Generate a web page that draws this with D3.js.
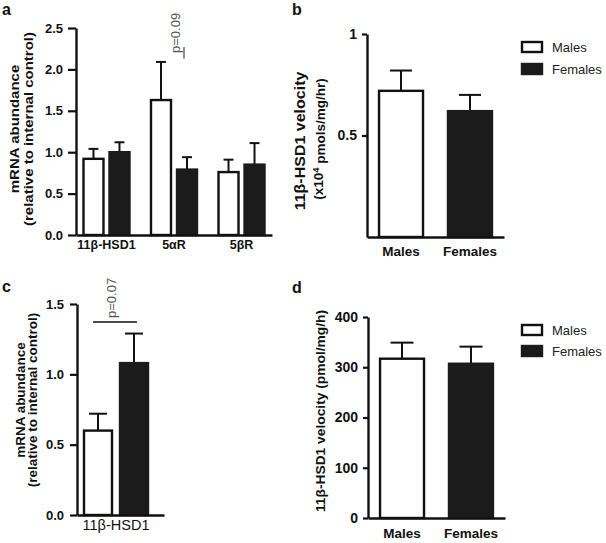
<!DOCTYPE html>
<html><head><meta charset="utf-8">
<script src="https://cdn.jsdelivr.net/npm/d3@7"></script>
<style>body{margin:0;background:#fff}</style>
</head><body>
<svg id="chart" width="606" height="543"></svg>
<script>
// ---------- data ----------
const sexes = ["Males", "Females"];

const aCategories = ["11β-HSD1", "5αR", "5βR"];
const aMales = [0.92, 1.63, 0.76];
const aMalesSem = [0.12, 0.46, 0.15];
const aFemales = [1.00, 0.79, 0.85];
const aFemalesSem = [0.12, 0.15, 0.26];
const aTicks = [0, 0.5, 1.0, 1.5, 2.0, 2.5];

const bCategories = ["Males", "Females"];
const bValues = [0.72, 0.62];
const bSem = [0.10, 0.08];
const bTicks = [0.5, 1];

const cCategories = ["11β-HSD1"];
const cMales = [0.60];
const cMalesSem = [0.12];
const cFemales = [1.08];
const cFemalesSem = [0.21];
const cTicks = [0, 0.5, 1.0, 1.5];

const dCategories = ["Males", "Females"];
const dValues = [317, 307];
const dSem = [32, 34];
const dTicks = [0, 100, 200, 300, 400];

// ---------- drawing ----------
const FONT = "'Liberation Sans', Arial, Helvetica, sans-serif";
const svg = d3.select("#chart").attr("font-family", FONT);
const INK = "#111";
const FEMALE = "#1b1b1b";

function panel(p) {
  const g = svg.append("g");
  const y = d3.scaleLinear().domain([0, p.yMax]).range([p.yBottom, p.yTop]);
  const outer = d3.scaleBand().domain(p.cats).range([p.x0, p.x1])
    .paddingInner(p.pi).paddingOuter(p.po).align(p.align);
  const inner = d3.scaleBand().domain(p.keys).range([0, outer.bandwidth()]).paddingInner(p.ki);

  const bw = inner.bandwidth();
  p.rows.forEach(r => {
    const bx = outer(r.cat) + inner(r.key);
    const isMale = r.sex === "Males";
    const top = y(r.v);
    const ey = y(r.v + r.sem);
    const cx = bx + bw / 2;
    const cap = bw * p.capFrac;
    g.append("line").attr("x1", cx).attr("x2", cx).attr("y1", top).attr("y2", ey)
      .attr("stroke", INK).attr("stroke-width", 2);
    g.append("line").attr("x1", cx - cap / 2).attr("x2", cx + cap / 2).attr("y1", ey).attr("y2", ey)
      .attr("stroke", INK).attr("stroke-width", 2);
    g.append("rect")
      .attr("x", bx + 1).attr("y", top).attr("width", bw - 2).attr("height", p.yBottom - top)
      .attr("fill", isMale ? "#fff" : FEMALE)
      .attr("stroke", isMale ? INK : FEMALE).attr("stroke-width", 2.4);
  });

  const ya = g.append("g").attr("transform", `translate(${p.x0},0)`)
    .call(d3.axisLeft(y).tickValues(p.ticks).tickFormat(p.fmt)
      .tickSize(p.tickSize).tickSizeOuter(0).tickPadding(p.tickPad));
  ya.select(".domain").attr("stroke", INK).attr("stroke-width", 2.4);
  ya.selectAll(".tick line").attr("stroke", INK).attr("stroke-width", 2.2);
  ya.selectAll(".tick text").attr("font-family", FONT).attr("font-size", p.tickFont)
    .attr("font-weight", "bold").attr("fill", INK);

  const xa = g.append("g").attr("transform", `translate(0,${p.yBottom})`)
    .call(d3.axisBottom(outer).tickSize(0).tickSizeOuter(0).tickPadding(p.catPad));
  xa.select(".domain").attr("stroke", INK).attr("stroke-width", 2.4);
  xa.selectAll(".tick text").attr("font-family", FONT).attr("font-size", p.catFont)
    .attr("font-weight", p.catWeight).attr("fill", INK);
  return { g, y, outer, inner };
}

function vlabel(x, y, txt, size, weight, sx) {
  return svg.append("text")
    .attr("transform", `translate(${x},${y}) scale(${sx},1) rotate(-90)`)
    .attr("text-anchor", "middle").attr("font-size", size).attr("font-weight", weight)
    .attr("fill", INK).text(txt);
}

function letter(x, y, t) {
  svg.append("text").attr("x", x).attr("y", y).attr("font-size", 16)
    .attr("font-weight", "bold").attr("fill", INK).text(t);
}

function legend(x, y0, gap) {
  sexes.forEach((s, i) => {
    const yy = y0 + i * gap;
    svg.append("rect").attr("x", x + 1).attr("y", yy - 5).attr("width", 20).attr("height", 10)
      .attr("fill", s === "Males" ? "#fff" : FEMALE)
      .attr("stroke", s === "Males" ? INK : FEMALE).attr("stroke-width", 2.4);
    svg.append("text").attr("x", x + 31).attr("y", yy).attr("dy", "0.35em")
      .attr("font-size", 13).attr("fill", "#222").text(s);
  });
}

// ---------- panel a ----------
const aRows = [];
aCategories.forEach((c, i) => {
  aRows.push({ cat: c, key: "Males", sex: "Males", v: aMales[i], sem: aMalesSem[i] });
  aRows.push({ cat: c, key: "Females", sex: "Females", v: aFemales[i], sem: aFemalesSem[i] });
});
const pa = panel({
  cats: aCategories, keys: sexes, rows: aRows,
  x0: 76, x1: 272, pi: 0.289, po: 0.096, align: 0.5, ki: 0.154,
  yBottom: 235, yTop: 28, yMax: 2.5, ticks: aTicks, fmt: d3.format(".1f"),
  tickSize: 8, tickPad: 5, tickFont: 13, catPad: 5, catFont: 12.5, catWeight: "bold", capFrac: 0.45
});
svg.append("line").attr("x1", 184).attr("x2", 184).attr("y1", pa.y(2.27)).attr("y2", pa.y(2.13))
  .attr("stroke", "#555").attr("stroke-width", 1.3);
svg.append("text").attr("transform", `translate(180,53) rotate(-90)`)
  .attr("font-size", 13).attr("fill", "#555").text("p=0.09");
vlabel(18.5, 129, "mRNA abundance", 15, "bold", 0.9);
vlabel(33, 129, "(relative to internal control)", 15, "bold", 0.9);
letter(2, 15, "a");

// ---------- panel b ----------
const bRows = bCategories.map((c, i) => ({ cat: c, key: "v", sex: c, v: bValues[i], sem: bSem[i] }));
panel({
  cats: bCategories, keys: ["v"], rows: bRows,
  x0: 367, x1: 504, pi: 0.333, po: 0.16, align: 0.5, ki: 0,
  yBottom: 237, yTop: 34, yMax: 1, ticks: bTicks, fmt: d => String(d),
  tickSize: 5, tickPad: 5, tickFont: 14, catPad: 9, catFont: 13.5, catWeight: "bold", capFrac: 0.48
});
vlabel(305, 141, "11β-HSD1 velocity", 16, "bold", 0.9);
{
  const t = svg.append("text")
    .attr("transform", `translate(323,139) scale(0.9,1) rotate(-90)`)
    .attr("text-anchor", "middle").attr("font-size", 13.5).attr("font-weight", "bold").attr("fill", INK);
  t.append("tspan").text("(x10");
  t.append("tspan").attr("dy", "-0.45em").attr("font-size", 9.5).text("4");
  t.append("tspan").attr("dy", "0.45em").text(" pmols/mg/hr)");
}
legend(521, 47, 22);
letter(292, 15, "b");

// ---------- panel c ----------
const cRows = [];
cCategories.forEach((c, i) => {
  cRows.push({ cat: c, key: "Males", sex: "Males", v: cMales[i], sem: cMalesSem[i] });
  cRows.push({ cat: c, key: "Females", sex: "Females", v: cFemales[i], sem: cFemalesSem[i] });
});
panel({
  cats: cCategories, keys: sexes, rows: cRows,
  x0: 77, x1: 164, pi: 0, po: 0.159, align: 0.286, ki: 0.167,
  yBottom: 515, yTop: 304, yMax: 1.5, ticks: cTicks, fmt: d3.format(".1f"),
  tickSize: 7, tickPad: 6, tickFont: 13, catPad: 5, catFont: 14.5, catWeight: "normal", capFrac: 0.6
});
svg.append("line").attr("x1", 93).attr("x2", 137).attr("y1", 322).attr("y2", 322)
  .attr("stroke", INK).attr("stroke-width", 1.6);
svg.append("text").attr("transform", `translate(116,318) rotate(-90)`)
  .attr("font-size", 13).attr("fill", "#555").text("p=0.07");
vlabel(24.5, 400, "mRNA abundance", 13.5, "bold", 0.9);
vlabel(37, 400, "(relative to internal control)", 13.5, "bold", 0.9);
letter(2, 292, "c");

// ---------- panel d ----------
const dRows = dCategories.map((c, i) => ({ cat: c, key: "v", sex: c, v: dValues[i], sem: dSem[i] }));
panel({
  cats: dCategories, keys: ["v"], rows: dRows,
  x0: 368, x1: 505, pi: 0.333, po: 0.16, align: 0.5, ki: 0,
  yBottom: 518, yTop: 317, yMax: 400, ticks: dTicks, fmt: d3.format("d"),
  tickSize: 5, tickPad: 5, tickFont: 14, catPad: 10, catFont: 13.5, catWeight: "bold", capFrac: 0.5
});
vlabel(325, 411, "11β-HSD1 velocity (pmol/mg/h)", 13.8, "bold", 0.9);
legend(521, 330, 21);
letter(292, 293, "d");
</script>
</body></html>
